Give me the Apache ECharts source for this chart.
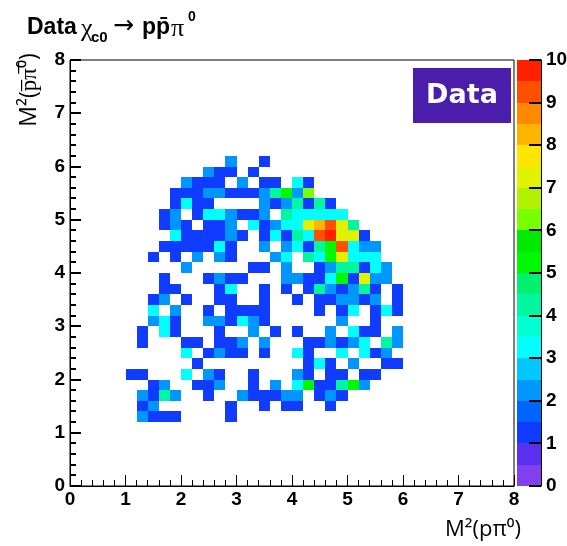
<!DOCTYPE html>
<html>
<head>
<meta charset="utf-8">
<script src="https://cdn.jsdelivr.net/npm/echarts@6/dist/echarts.min.js"></script>
<style>
  html, body { margin: 0; padding: 0; background: #fff; }
  #chart { width: 567px; height: 546px; }
</style>
</head>
<body>
<div id="chart"></div>
<script>
// Histogram binning: bins of width 0.2 GeV^2 on both axes
const BIN_WIDTH = 0.2;
// Occupied block of the histogram: columns start at x bin 5 (x = 1.0),
// rows run downward from y bin 30 (y = 6.0) to y bin 6 (y = 1.2)
const FIRST_COL = 5;
const TOP_ROW = 30;
// Event counts per bin, one row per y bin (top to bottom), 25 columns (x = 1.0 .. 5.8)
const counts = [
  [0,0,0,0,0,0,0,0,0,2,0,0,1,0,0,0,0,0,0,0,0,0,0,0,0],
  [0,0,0,0,0,0,0,2,1,1,0,1,0,0,0,0,0,0,0,0,0,0,0,0,0],
  [0,0,0,0,0,2,1,1,1,0,2,0,1,1,0,3,1,0,0,0,0,0,0,0,0],
  [0,0,0,0,1,1,1,2,2,1,1,1,2,4,5,2,6,0,0,0,0,0,0,0,0],
  [0,0,0,0,1,3,1,1,0,0,0,0,2,1,2,4,1,4,1,0,0,0,0,0,0],
  [0,0,0,1,2,0,1,3,3,2,1,1,2,0,4,3,3,3,3,3,0,0,0,0,0],
  [0,0,0,1,2,1,0,1,1,2,0,3,1,2,3,3,7,8,9,7,4,0,0,0,0],
  [0,0,0,0,3,1,1,1,1,2,1,0,1,3,1,4,3,9,10,7,7,1,0,0,0],
  [0,0,0,1,1,1,1,1,3,1,0,0,2,0,2,3,1,4,5,9,3,2,2,0,0],
  [0,0,1,0,1,0,2,0,2,1,0,0,0,2,3,0,4,3,5,7,3,3,3,0,0],
  [0,0,0,0,0,2,0,0,0,0,0,1,1,0,2,0,0,1,2,4,4,1,3,2,0],
  [0,0,0,1,0,0,0,1,2,1,1,0,0,0,2,2,1,1,3,5,1,7,2,2,0],
  [0,0,0,1,1,0,0,0,1,3,0,0,1,0,1,0,1,4,2,1,2,4,1,0,1],
  [0,0,1,2,0,1,0,0,1,1,0,0,1,0,0,1,0,1,1,2,2,1,2,0,1],
  [0,0,3,0,2,0,0,1,0,1,1,1,1,0,0,0,0,1,0,1,3,0,1,3,1],
  [0,0,2,3,1,0,0,2,2,1,3,2,1,0,0,0,0,0,0,2,0,0,1,0,0],
  [0,1,0,3,1,0,0,0,1,0,0,2,0,1,0,1,0,0,2,0,3,1,1,0,2],
  [0,1,0,0,0,1,1,0,1,1,2,0,2,0,0,0,1,1,2,1,2,3,0,4,2],
  [0,0,0,0,0,3,0,1,2,1,1,0,1,0,0,3,1,0,0,3,0,3,1,2,0],
  [0,0,0,0,0,0,1,0,0,0,0,0,0,0,0,0,1,3,1,0,2,0,0,1,1],
  [1,1,0,0,0,3,0,2,1,0,0,1,0,0,0,2,1,0,1,1,0,1,1,0,0],
  [0,0,1,2,0,0,1,1,2,0,0,1,0,2,0,3,5,1,1,4,5,2,0,0,0],
  [0,2,1,4,2,0,0,1,0,0,2,1,1,1,2,2,0,1,2,1,0,0,0,0,0],
  [0,1,2,0,0,0,0,0,0,1,0,0,1,0,1,1,0,0,1,0,0,0,0,0,0],
  [0,2,1,1,1,0,0,0,0,1,0,0,0,0,0,0,0,0,0,0,0,0,0,0,0]
];
// Colour scale: 20 contour levels from 0 to 10
const zLevels = [0,0.5,1,1.5,2,2.5,3,3.5,4,4.5,5,5.5,6,6.5,7,7.5,8,8.5,9,9.5,10];
const levelColors = [
  '#8040f0','#5a30f0','#0f3cff','#0064ff','#0096ff','#00c8ff','#00ffff','#00ffd2',
  '#00f7a0','#00f070','#00f800','#00ea00','#78ff00','#b0f000','#e0f200','#ffe600',
  '#ffb400','#ff8a00','#ff5000','#ff2000'
];
// Axis ranges and tick spacing
const axisRange = [0, 8];
const zRange = [0, 10];
const MINOR_STEP = 0.2;

// Bin cells as [x low edge, y low edge, count]
const cells = [];
counts.forEach((row, i) => {
  row.forEach((v, j) => {
    if (v > 0) cells.push([+((FIRST_COL + j) * BIN_WIDTH).toFixed(1), +((TOP_ROW - i) * BIN_WIDTH).toFixed(1), v]);
  });
});

// Palette bar: one block per colour level as [low, high, level centre]
const paletteCells = levelColors.map((_, k) => [zLevels[k], zLevels[k + 1], (zLevels[k] + zLevels[k + 1]) / 2]);

// Tick positions for the vertical axis (inward ticks) and the palette axis
const nMinor = Math.round((axisRange[1] - axisRange[0]) / MINOR_STEP);
const yTicks = Array.from({ length: nMinor + 1 }, (_, k) => [axisRange[0], +(k * MINOR_STEP).toFixed(1), k % 5 === 0 ? 1 : 0]);
const zTicks = Array.from({ length: zRange[1] - zRange[0] + 1 }, (_, k) => [1, zRange[0] + k]);

const pieces = levelColors.map((c, k) => {
  const p = { gte: zLevels[k], color: c };
  if (k === levelColors.length - 1) p.lte = zLevels[k + 1]; else p.lt = zLevels[k + 1];
  return p;
});

// Filled rectangle between two data-space corners, snapped to whole pixels
function pixelRect(a, b, color) {
  const x0 = Math.round(Math.min(a[0], b[0])), x1 = Math.round(Math.max(a[0], b[0]));
  const y0 = Math.round(Math.min(a[1], b[1])), y1 = Math.round(Math.max(a[1], b[1]));
  return { type: 'rect', shape: { x: x0, y: y0, width: x1 - x0, height: y1 - y0 }, style: { fill: color } };
}

function renderBin(params, api) {
  const x = api.value(0), y = api.value(1);
  return pixelRect(api.coord([x, y]), api.coord([x + BIN_WIDTH, y + BIN_WIDTH]), api.visual('color'));
}

function renderPalette(params, api) {
  return pixelRect(api.coord([0, api.value(0)]), api.coord([1, api.value(1)]), api.visual('color'));
}

// Short horizontal tick pointing from the axis into the plot, drawn as a thin filled bar
function tickBar(p, len) {
  const y = Math.round(p[1]);
  const x0 = Math.round(p[0]);
  return { type: 'rect', shape: { x: Math.min(x0, x0 + len), y: y - 1, width: Math.abs(len), height: 2 },
    style: { fill: '#000' } };
}

function renderYTick(params, api) {
  return tickBar(api.coord([api.value(0), api.value(1)]), api.value(2) ? 11 : 6);
}

function renderZTick(params, api) {
  return tickBar(api.coord([api.value(0), api.value(1)]), -12);
}

const labelFont = { color: '#000', fontFamily: 'Liberation Sans', fontWeight: 'bold', fontSize: 19 };
const line = () => ({ color: '#000', width: 1 });

const chart = echarts.init(document.getElementById('chart'), null, { renderer: 'canvas' });

chart.setOption({
  animation: false,
  backgroundColor: '#fff',
  grid: [
    { left: 70, top: 60, width: 444, height: 426, show: true, borderColor: '#000', borderWidth: 1,
      backgroundColor: 'transparent', outerBoundsMode: 'none' },
    { left: 517, top: 60, width: 24, height: 426, outerBoundsMode: 'none' }
  ],
  xAxis: [
    { type: 'value', gridIndex: 0, min: axisRange[0], max: axisRange[1], interval: 1, position: 'bottom',
      axisLine: { show: true, onZero: false, lineStyle: line() },
      axisTick: { show: true, inside: true, length: 11, lineStyle: line() },
      minorTick: { show: true, splitNumber: 5, length: 6, lineStyle: line() },
      splitLine: { show: false },
      axisLabel: Object.assign({ margin: 4 }, labelFont) },
    { type: 'value', gridIndex: 1, min: 0, max: 1, show: false }
  ],
  yAxis: [
    { type: 'value', gridIndex: 0, min: axisRange[0], max: axisRange[1], interval: 1, position: 'left',
      axisLine: { show: true, onZero: false, lineStyle: line() },
      axisTick: { show: false },
      splitLine: { show: false },
      axisLabel: Object.assign({ margin: 5 }, labelFont) },
    { type: 'value', gridIndex: 1, min: zRange[0], max: zRange[1], interval: 1, position: 'right',
      axisLine: { show: true, onZero: false, lineStyle: line() },
      axisTick: { show: false },
      splitLine: { show: false },
      axisLabel: Object.assign({ margin: 5 }, labelFont) }
  ],
  visualMap: {
    type: 'piecewise', show: false, dimension: 2, seriesIndex: [0, 1], pieces: pieces
  },
  series: [
    { type: 'custom', xAxisIndex: 0, yAxisIndex: 0, data: cells, renderItem: renderBin,
      encode: { x: 0, y: 1 }, silent: true, z: 1 },
    { type: 'custom', xAxisIndex: 1, yAxisIndex: 1, data: paletteCells, renderItem: renderPalette,
      encode: { y: [0, 1] }, silent: true, z: 1 },
    { type: 'custom', xAxisIndex: 0, yAxisIndex: 0, data: yTicks, renderItem: renderYTick,
      encode: { x: 0, y: 1 }, silent: true, z: 3 },
    { type: 'custom', xAxisIndex: 1, yAxisIndex: 1, data: zTicks, renderItem: renderZTick,
      encode: { x: 0, y: 1 }, silent: true, z: 3 }
  ],
  graphic: [
    // Title: Data chi_c0 -> p pbar pi0
    { type: 'text', left: 27, top: 16, style: { text: 'Data', font: 'bold 23px "Liberation Sans"', fill: '#000' } },
    { type: 'text', left: 81, top: 16, style: { text: 'χ', font: '26px "Liberation Serif"', fill: '#000' } },
    { type: 'text', left: 91, top: 30, style: { text: 'c0', font: 'bold 15px "Liberation Sans"', fill: '#000' } },
    { type: 'text', left: 113, top: 14, style: { text: '→', font: '25px "DejaVu Sans"', fill: '#000' } },
    { type: 'text', left: 142, top: 16, style: { text: 'pp̄', font: 'bold 23px "Liberation Sans"', fill: '#000' } },
    { type: 'text', left: 171, top: 16, style: { text: 'π', font: '26px "Liberation Serif"', fill: '#000' } },
    { type: 'text', left: 188, top: 10, style: { text: '0', font: 'bold 14px "Liberation Sans"', fill: '#000' } },
    // Axis titles
    { type: 'text', x: 483, y: 530, style: { text: 'M²(pπ⁰)', font: '22px "Open Sans"', fill: '#000',
        textAlign: 'center', textVerticalAlign: 'middle' } },
    { type: 'text', x: 29, y: 90, rotation: Math.PI / 2, style: { text: 'M²(p̅π̅⁰)', font: '23px "Open Sans"', fill: '#000',
        textAlign: 'center', textVerticalAlign: 'middle' } },
    // Sample tag
    { type: 'rect', shape: { x: 413, y: 68, width: 98, height: 55 }, style: { fill: '#4a1eaa' }, z: 100 },
    { type: 'text', x: 462, y: 96, z: 101, style: { text: 'Data', font: 'bold 27px "DejaVu Sans"', fill: '#fff',
        textAlign: 'center', textVerticalAlign: 'middle' } }
  ]
});
</script>
</body>
</html>
